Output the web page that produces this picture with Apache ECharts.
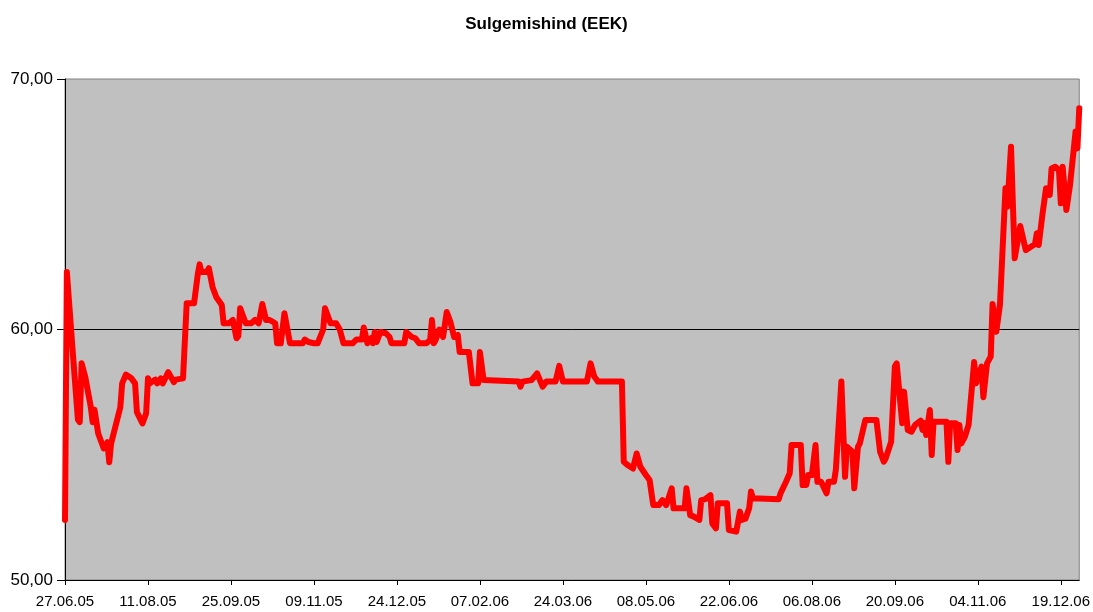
<!DOCTYPE html>
<html>
<head>
<meta charset="utf-8">
<script src="https://cdn.jsdelivr.net/npm/echarts@6/dist/echarts.min.js"></script>
<style>
html,body{margin:0;padding:0;background:#fff;}
#chart{width:1093px;height:612px;}
</style>
</head>
<body>
<div id="chart"></div>
<script>
// Start date of the axis (day 0)
const startDate = [2005, 6, 27];
// Tick labels on the date axis
const tickLabels = ['27.06.05','11.08.05','25.09.05','09.11.05','24.12.05','07.02.06','24.03.06','08.05.06','22.06.06','06.08.06','20.09.06','04.11.06','19.12.06'];
// Last day shown on the axis (29.12.06)
const endLabel = '29.12.06';
// Day offsets from 27.06.05 of each read point
const days = [0,1,4,7,8,9,11,14,15,16,18,21,23,24,25,30,31,33,36,38,39,42,44,45,46,49,50,52,53,56,59,60,64,66,70,72,73,74,77,78,80,82,85,86,89,91,93,94,95,98,101,103,105,107,109,111,114,115,117,119,120,122,129,130,132,135,137,140,141,144,147,149,151,156,158,161,162,164,166,167,168,169,171,174,176,177,184,185,188,190,192,196,198,199,200,201,203,205,206,207,209,211,213,214,219,221,224,225,227,246,247,248,253,256,259,261,266,268,270,283,285,287,289,302,303,305,308,310,312,315,316,317,319,322,324,326,329,330,336,337,339,341,344,345,347,350,351,353,354,359,360,364,366,367,369,371,372,373,387,388,391,393,394,399,400,402,403,405,407,408,410,413,414,417,418,421,423,424,427,428,430,431,434,440,442,444,445,448,450,451,454,455,456,457,459,461,464,465,466,467,469,470,471,478,479,480,483,484,485,486,488,490,493,494,497,498,500,502,503,505,506,507,508,510,511,513,514,515,518,519,521,524,526,527,528,530,532,534,535,537,539,540,541,543,545,548,549,550];
// Values (EEK) at those days
const values = [52.4,62.3,59.3,56.4,56.3,58.65,58.1,56.9,56.3,56.8,55.85,55.25,55.5,54.7,55.45,56.9,57.85,58.2,58.05,57.85,56.7,56.25,56.65,58.05,57.85,58.0,57.85,58.05,57.85,58.3,57.9,58.0,58.05,61.05,61.05,62.2,62.6,62.3,62.3,62.45,61.7,61.3,60.98,60.25,60.25,60.38,59.65,59.74,60.85,60.25,60.25,60.38,60.25,61.02,60.38,60.38,60.25,59.45,59.45,60.65,60.7,59.45,59.45,59.6,59.5,59.45,59.45,60.0,60.85,60.25,60.25,60.0,59.45,59.45,59.6,59.6,60.08,59.45,59.65,59.45,59.9,59.5,59.9,59.85,59.7,59.45,59.45,59.9,59.7,59.65,59.45,59.45,59.58,60.38,59.45,59.58,60.0,59.7,59.7,60.7,60.3,59.7,59.78,59.1,59.1,57.85,57.85,59.1,57.98,57.92,57.72,57.92,57.98,58.25,57.72,57.92,57.92,58.55,57.92,57.92,58.65,58.12,57.92,57.92,54.72,54.59,54.45,55.05,54.52,54.19,54.25,53.99,52.99,52.99,53.19,52.99,53.66,52.86,52.86,53.66,52.59,52.53,52.4,53.19,53.22,53.39,52.26,52.06,53.06,53.06,51.99,51.93,52.73,52.4,52.45,52.86,53.53,53.26,53.22,53.46,53.92,54.26,55.39,55.39,53.79,53.79,54.19,54.19,55.39,53.92,53.92,53.46,53.92,53.92,54.39,57.92,54.12,55.32,55.12,53.66,55.32,55.45,56.39,56.39,55.12,54.72,54.85,55.52,58.52,58.65,56.26,57.52,57.52,55.99,55.92,56.19,56.36,55.99,56.26,55.79,56.79,54.99,56.32,56.32,54.72,56.26,56.26,55.19,56.19,55.45,55.72,56.19,58.7,57.85,58.52,57.3,58.65,58.92,61.02,59.91,59.91,60.98,60.98,65.64,64.9,67.3,65.04,62.84,64.13,64.13,63.17,63.31,63.41,63.84,63.37,64.57,65.64,65.37,66.43,66.5,66.37,65.04,66.5,64.77,65.77,67.9,67.23,68.83];
// Value axis ticks
const yTicks = [50, 60, 70];

const DAY = 86400000;
const t0 = Date.UTC(startDate[0], startDate[1] - 1, startDate[2]);
function labelToDay(s) {
  const p = s.split('.');
  return Math.round((Date.UTC(2000 + +p[2], +p[1] - 1, +p[0]) - t0) / DAY);
}
function dayToLabel(d) {
  const dt = new Date(t0 + d * DAY);
  const pad = n => String(n).padStart(2, '0');
  return pad(dt.getUTCDate()) + '.' + pad(dt.getUTCMonth() + 1) + '.' + pad(dt.getUTCFullYear() % 100);
}
const tickDays = tickLabels.map(labelToDay);
const endDay = labelToDay(endLabel);
const seriesData = days.map((d, i) => [d, values[i]]);

const font = 'Liberation Sans, Arial, Helvetica, sans-serif';
const chart = echarts.init(document.getElementById('chart'), null, {renderer: 'canvas'});
chart.setOption({
  animation: false,
  backgroundColor: '#ffffff',
  title: {
    text: 'Sulgemishind (EEK)',
    left: 'center',
    top: 11,
    textStyle: {fontSize: 17, fontWeight: 'bold', color: '#000', fontFamily: font}
  },
  grid: {
    left: 65, right: 13, top: 79, bottom: 32,
    show: true, backgroundColor: '#c0c0c0', borderColor: '#808080', borderWidth: 1
  },
  xAxis: {
    type: 'value',
    min: 0, max: endDay, interval: 45,
    axisLine: {show: true, lineStyle: {color: '#000', width: 1}},
    axisTick: {show: true, length: 5, lineStyle: {color: '#000'}, customValues: tickDays},
    axisLabel: {
      customValues: tickDays,
      formatter: v => dayToLabel(v),
      fontSize: 15, color: '#000', fontFamily: font, margin: 14
    },
    splitLine: {show: false}
  },
  yAxis: {
    type: 'value',
    min: yTicks[0], max: yTicks[yTicks.length - 1], interval: 10,
    axisLine: {show: true, lineStyle: {color: '#000', width: 1}},
    axisTick: {show: true, length: 8, lineStyle: {color: '#000'}},
    axisLabel: {
      formatter: v => v.toFixed(2).replace('.', ','),
      fontSize: 17, color: '#000', fontFamily: font, margin: 12
    },
    splitLine: {show: true, lineStyle: {color: ['rgba(0,0,0,0)', '#000000'], width: 1}}
  },
  series: [{
    type: 'line',
    data: seriesData,
    showSymbol: false,
    symbol: 'none',
    lineStyle: {color: '#ff0000', width: 6, join: 'round', cap: 'round'},
    itemStyle: {color: '#ff0000'},
    z: 3
  }]
});
</script>
</body>
</html>
